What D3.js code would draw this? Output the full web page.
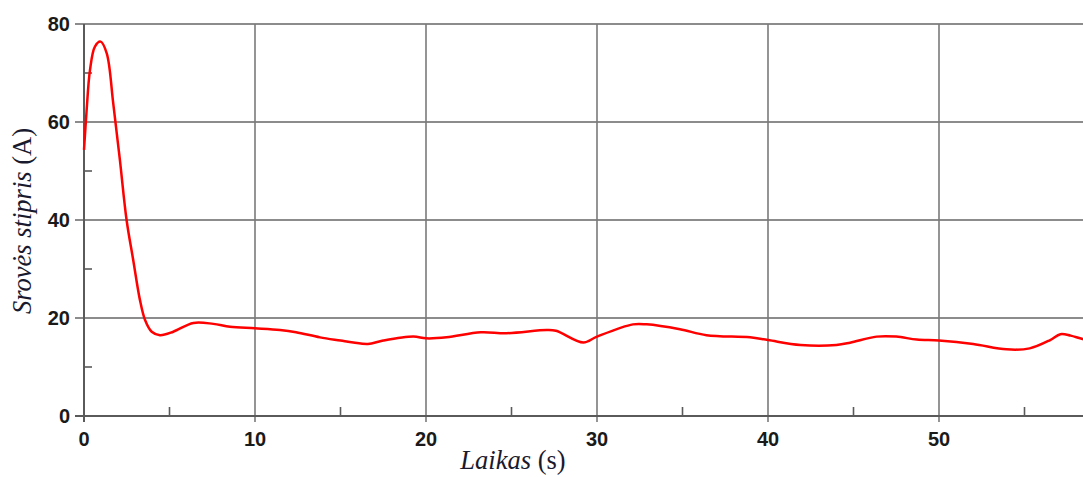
<!DOCTYPE html>
<html>
<head>
<meta charset="utf-8">
<script src="https://cdn.jsdelivr.net/npm/d3@7"></script>
<style>
  html, body { margin: 0; padding: 0; background: #fff; }
  svg { display: block; }
</style>
</head>
<body>
<svg id="chart" width="1083" height="477"></svg>
<script>
// Measured current over time
const timeS = [0, 0.15, 0.35, 0.64, 0.97, 1.33, 1.71, 2.1, 2.49, 2.88, 3.27, 3.57, 3.96, 4.44,
  5.22, 6.4, 7.56, 8.54, 10, 11.46, 12.4, 13.8, 15, 15.75, 16.6, 17.5, 19.26, 20, 21.2, 23.2,
  24.7, 27.05, 27.6, 29.2, 30, 32.1, 32.9, 34.85, 36.4, 38.95, 40, 41.9, 44.0, 44.8, 46.35,
  47.5, 48.7, 50, 52, 53.95, 55.3, 56.5, 57.1, 57.7, 58.4, 59.2];
const currentA = [54.3, 62.2, 70.6, 75.4, 76.4, 74, 63.8, 52.2, 40, 31.8, 23.7, 19.6, 17.2, 16.5,
  17.2, 19.0, 18.8, 18.2, 17.9, 17.55, 17.1, 16.05, 15.4, 15.0, 14.7, 15.4, 16.2, 15.85, 16.05, 17.1,
  16.9, 17.55, 17.4, 15.0, 16.2, 18.7, 18.7, 17.7, 16.5, 16.05, 15.5, 14.5, 14.5, 14.96, 16.2,
  16.2, 15.6, 15.4, 14.7, 13.6, 13.8, 15.5, 16.7, 16.4, 15.7, 15.3];

const xMajorTicks = [0, 10, 20, 30, 40, 50];
const xMinorTicks = [5, 15, 25, 35, 45, 55];
const yMajorTicks = [0, 20, 40, 60, 80];
const yMinorTicks = [10, 30, 50, 70];

const svg = d3.select("#chart");
const x = d3.scaleLinear().domain([0, 60]).range([84, 1110]);
const y = d3.scaleLinear().domain([0, 80]).range([416, 24]);

const gridColor = "#8c8c8c";
const axisColor = "#5a5a5a";

// Horizontal grid lines (excluding the baseline)
svg.append("g")
  .selectAll("line")
  .data(yMajorTicks.filter(d => d > 0))
  .join("line")
  .attr("x1", 75).attr("x2", 1083)
  .attr("y1", d => y(d)).attr("y2", d => y(d))
  .attr("stroke", gridColor).attr("stroke-width", 2);

// Vertical grid lines
svg.append("g")
  .selectAll("line")
  .data(xMajorTicks.filter(d => d > 0))
  .join("line")
  .attr("x1", d => x(d)).attr("x2", d => x(d))
  .attr("y1", y(80)).attr("y2", 422)
  .attr("stroke", "#7a7a7a").attr("stroke-width", 1.6);

// Axis lines
svg.append("line")
  .attr("x1", 75).attr("x2", 1083)
  .attr("y1", y(0)).attr("y2", y(0))
  .attr("stroke", axisColor).attr("stroke-width", 2);
svg.append("line")
  .attr("x1", x(0)).attr("x2", x(0))
  .attr("y1", y(80)).attr("y2", 422)
  .attr("stroke", axisColor).attr("stroke-width", 2);

// Minor ticks, pointing inward
svg.append("g")
  .selectAll("line")
  .data(xMinorTicks)
  .join("line")
  .attr("x1", d => x(d)).attr("x2", d => x(d))
  .attr("y1", y(0)).attr("y2", y(0) - 9)
  .attr("stroke", axisColor).attr("stroke-width", 1.6);
svg.append("g")
  .selectAll("line")
  .data(yMinorTicks)
  .join("line")
  .attr("x1", x(0)).attr("x2", x(0) + 8)
  .attr("y1", d => y(d)).attr("y2", d => y(d))
  .attr("stroke", axisColor).attr("stroke-width", 1.6);

// Tick labels
const tickFont = "'Liberation Sans', Arial, sans-serif";
svg.append("g")
  .selectAll("text")
  .data(yMajorTicks)
  .join("text")
  .attr("x", 70).attr("y", d => y(d) + 7)
  .attr("text-anchor", "end")
  .attr("font-family", tickFont).attr("font-weight", "bold").attr("font-size", 20)
  .attr("fill", "#1a1a1a")
  .text(d => d);
svg.append("g")
  .selectAll("text")
  .data(xMajorTicks)
  .join("text")
  .attr("x", d => x(d)).attr("y", 446)
  .attr("text-anchor", "middle")
  .attr("font-family", tickFont).attr("font-weight", "bold").attr("font-size", 20)
  .attr("fill", "#1a1a1a")
  .text(d => d);

// Axis titles
const titleFont = "'Liberation Serif', 'Times New Roman', serif";
const xTitle = svg.append("text")
  .attr("x", 513).attr("y", 469)
  .attr("text-anchor", "middle")
  .attr("font-family", titleFont).attr("font-size", 26.5)
  .attr("fill", "#1a1a2e");
xTitle.append("tspan").attr("font-style", "italic").text("Laikas");
xTitle.append("tspan").text(" (s)");

const yTitle = svg.append("text")
  .attr("transform", `translate(31, 221) rotate(-90)`)
  .attr("text-anchor", "middle")
  .attr("font-family", titleFont).attr("font-size", 26.5)
  .attr("fill", "#1a1a2e");
yTitle.append("tspan").attr("font-style", "italic").text("Srovės stipris");
yTitle.append("tspan").text(" (A)");

// Current curve
const line = d3.line()
  .x((d, i) => x(timeS[i]))
  .y(d => y(d))
  .curve(d3.curveCatmullRom.alpha(0.5));

svg.append("path")
  .datum(currentA)
  .attr("d", line)
  .attr("fill", "none")
  .attr("stroke", "#ff0000")
  .attr("stroke-width", 2.5)
  .attr("stroke-linejoin", "round");
</script>
</body>
</html>
